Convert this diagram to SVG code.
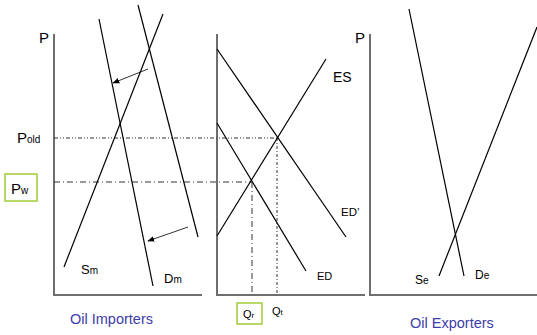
<svg xmlns="http://www.w3.org/2000/svg" width="537" height="335" viewBox="0 0 537 335">
<defs>
<style>
.axis{stroke:#6e6e6e;stroke-width:2;fill:none}
.curve{stroke:#000;stroke-width:1.2;fill:none}
.arr{stroke:#333;stroke-width:1;fill:none}
.guide{stroke:#333;stroke-width:1;fill:none}
.t{font-family:"Liberation Sans",Arial,sans-serif;fill:#000}
.sub{font-size:10px}
.title{font-family:"Liberation Sans",Arial,sans-serif;fill:#3d3da8;font-size:14.5px}
.box{fill:#fff;stroke:#a3cc3a;stroke-width:1.5}
</style>
<marker id="ah" viewBox="0 0 10 10" refX="9" refY="5" markerWidth="7" markerHeight="7" orient="auto" markerUnits="userSpaceOnUse">
<path d="M0,1 L10,5 L0,9 z" fill="#000"/>
</marker>
</defs>
<rect width="537" height="335" fill="#fff"/>

<g id="axes">
<path class="axis" d="M54,34 V295 H202"/>
<path class="axis" d="M217,34 V295 H365"/>
<path class="axis" d="M370,34 V295 H537"/>
</g>

<g id="connectors">
<line class="guide" x1="54" y1="138" x2="277" y2="138" stroke-dasharray="4,2,1,2,1,2"/>
<line class="guide" x1="54" y1="182" x2="252" y2="182" stroke-dasharray="6,3,1,3"/>
<line class="guide" x1="252" y1="182" x2="252" y2="295" stroke-dasharray="6,3,1,3"/>
<line class="guide" x1="277" y1="138" x2="277" y2="295" stroke-dasharray="3,2,1,2"/>
<line class="arr" x1="148" y1="69" x2="113" y2="83" marker-end="url(#ah)"/>
<line class="arr" x1="188" y1="227" x2="148" y2="241" marker-end="url(#ah)"/>
</g>

<g id="importers">
<line id="Sm" class="curve" x1="64" y1="267" x2="163" y2="14"/>
<line id="Dm" class="curve" x1="99" y1="19" x2="153" y2="286"/>
<line id="Dm-old" class="curve" x1="138" y1="5" x2="198" y2="237"/>
<text class="t" x="39" y="43" font-size="15">P</text>
<text class="t" x="17" y="143" font-size="15">P<tspan class="sub">old</tspan></text>
<g id="Pw"><rect class="box" x="5" y="174" width="32" height="27"/>
<text class="t" x="11" y="194" font-size="15">P<tspan class="sub">w</tspan></text></g>
<text class="t" x="81" y="274" font-size="13">S<tspan class="sub">m</tspan></text>
<text class="t" x="164" y="283" font-size="13">D<tspan class="sub">m</tspan></text>
<text class="title" x="70" y="324">Oil Importers</text>
</g>

<g id="world">
<line id="EDp" class="curve" x1="217" y1="49" x2="346" y2="237"/>
<line id="ED" class="curve" x1="217" y1="123" x2="306" y2="271"/>
<line id="ES" class="curve" x1="217" y1="236" x2="326" y2="59"/>
<text class="t" x="333" y="82" font-size="14">ES</text>
<text class="t" x="341" y="216" font-size="11.5">ED’</text>
<text class="t" x="317" y="280" font-size="11">ED</text>
<g id="Qr"><rect class="box" x="237" y="303" width="25" height="21"/>
<text class="t" x="243" y="318" font-size="11">Q<tspan font-size="8">r</tspan></text></g>
<text class="t" x="272" y="315" font-size="11">Q<tspan font-size="8">t</tspan></text>
</g>

<g id="exporters">
<line id="De" class="curve" x1="409" y1="9" x2="464" y2="276"/>
<line id="Se" class="curve" x1="439" y1="276" x2="537" y2="27"/>
<text class="t" x="355" y="43" font-size="15">P</text>
<text class="t" x="415" y="284" font-size="12">S<tspan class="sub">e</tspan></text>
<text class="t" x="475" y="279" font-size="12">D<tspan class="sub">e</tspan></text>
<text class="title" x="410" y="328">Oil Exporters</text>
</g>
</svg>
